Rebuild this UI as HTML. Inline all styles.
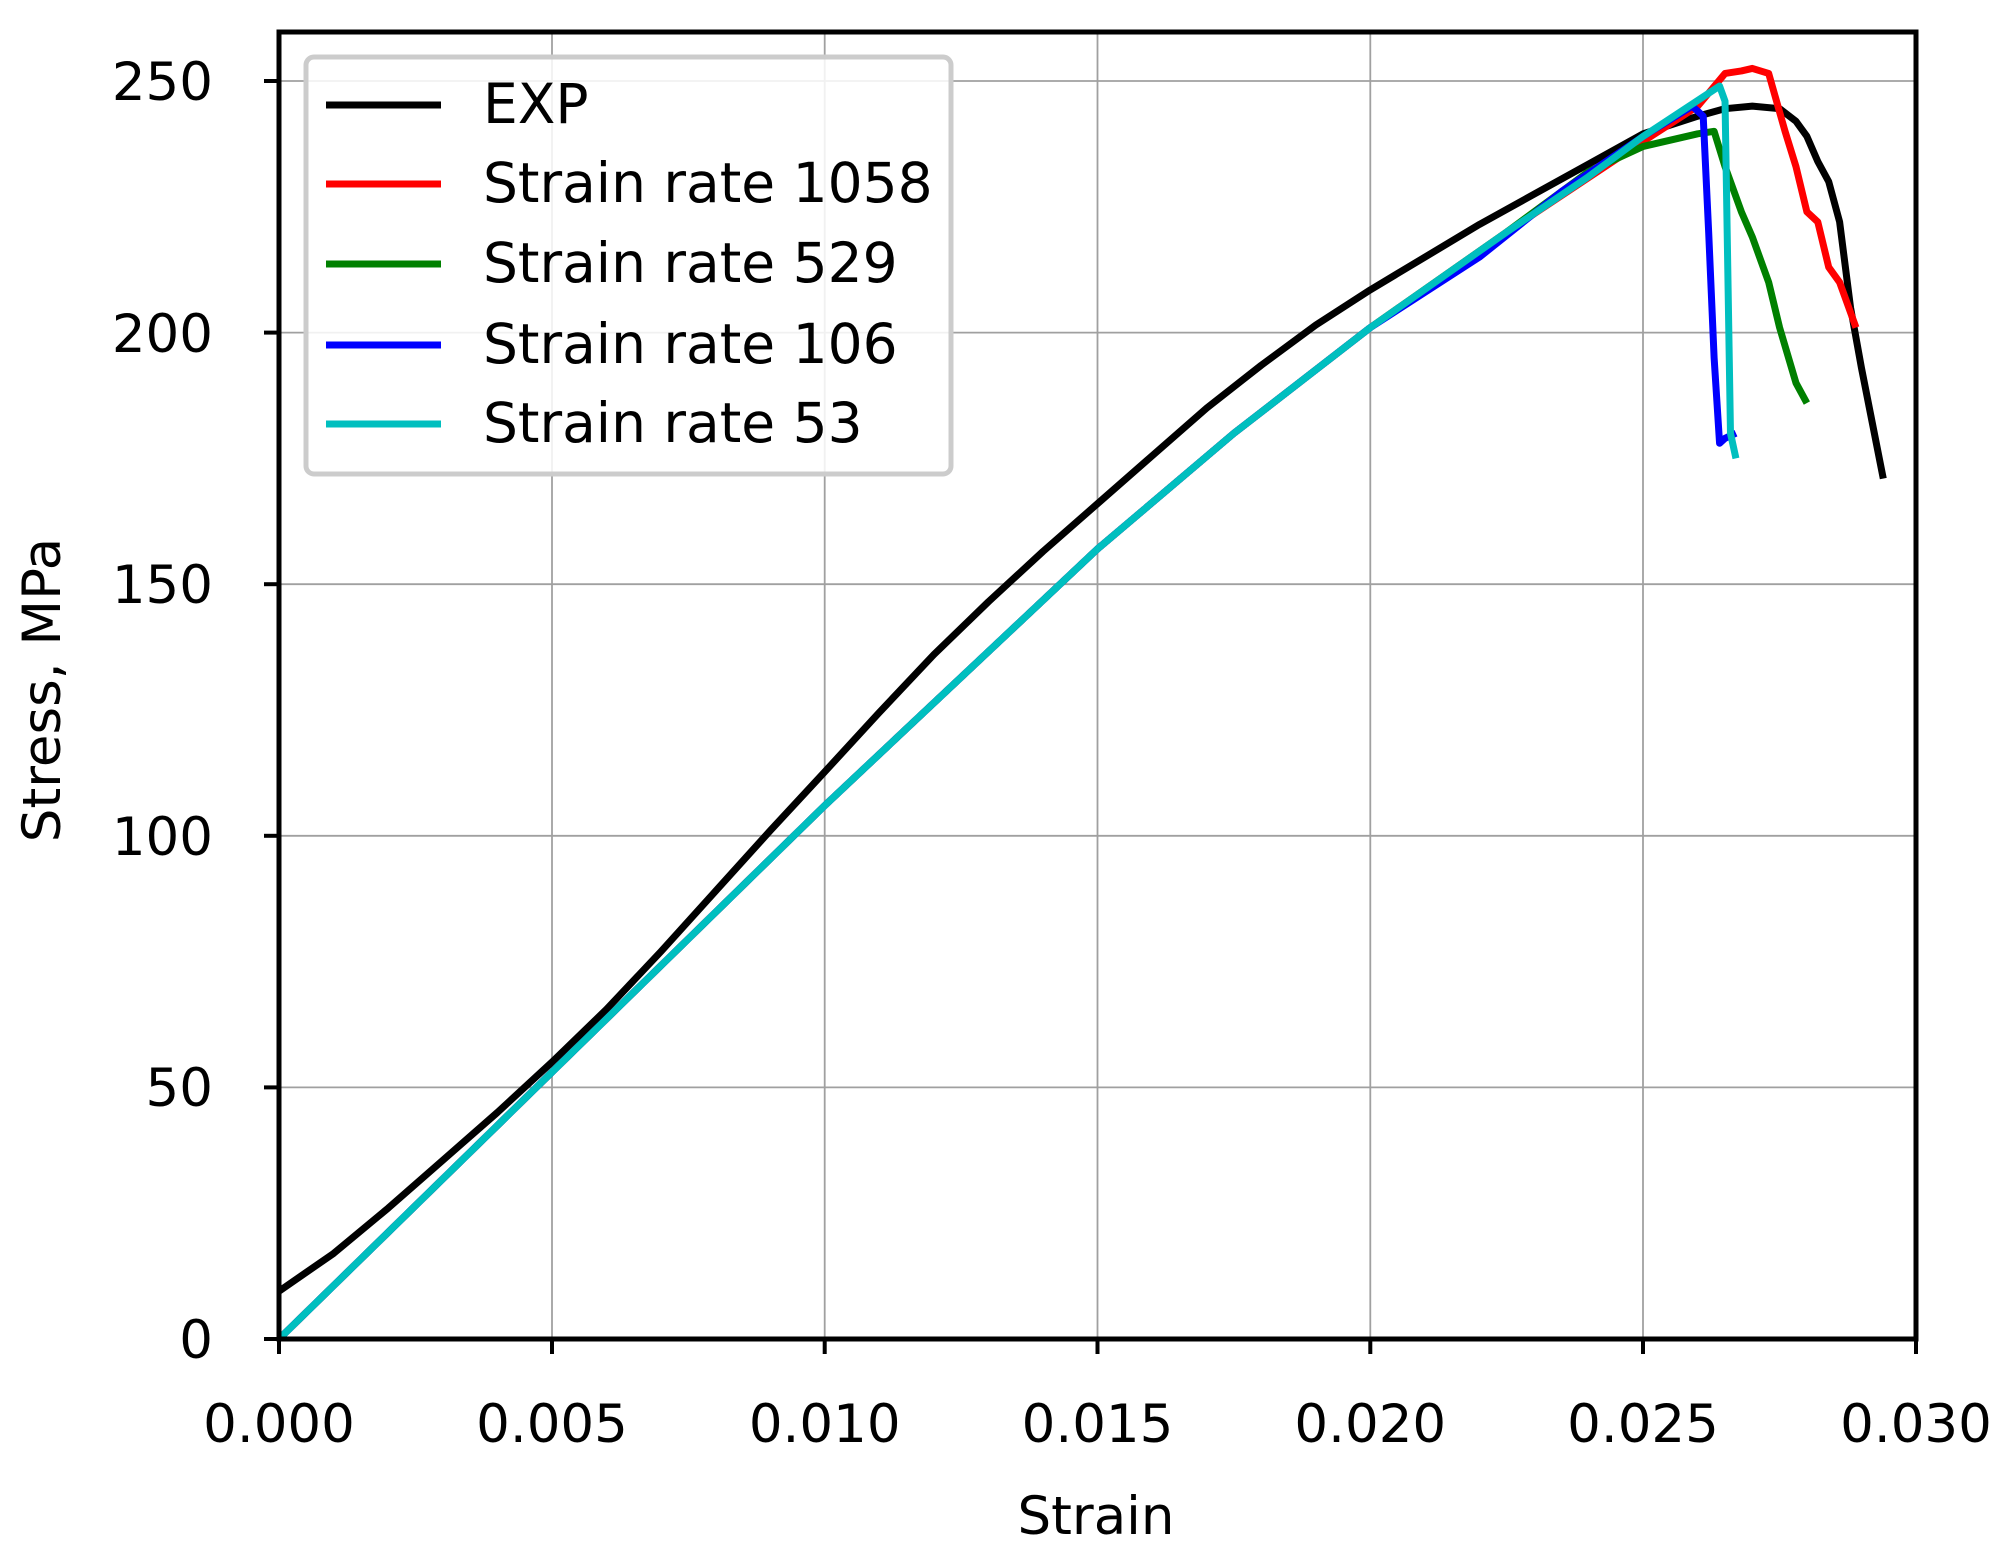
<!DOCTYPE html>
<html><head><meta charset="utf-8"><style>
html,body{margin:0;padding:0;background:#fff}
svg text{font-family:"DejaVu Sans","Liberation Sans",sans-serif;fill:#000}
</style></head><body>
<svg width="2003" height="1557" viewBox="0 0 2003 1557" xmlns="http://www.w3.org/2000/svg">
<rect width="2003" height="1557" fill="#fff"/>
<g stroke="#a0a0a0" stroke-width="1.8">
<line x1="552" y1="32" x2="552" y2="1339"/>
<line x1="824.7" y1="32" x2="824.7" y2="1339"/>
<line x1="1097.5" y1="32" x2="1097.5" y2="1339"/>
<line x1="1370.3" y1="32" x2="1370.3" y2="1339"/>
<line x1="1643" y1="32" x2="1643" y2="1339"/>
<line x1="279" y1="1087.4" x2="1916" y2="1087.4"/>
<line x1="279" y1="835.8" x2="1916" y2="835.8"/>
<line x1="279" y1="584.2" x2="1916" y2="584.2"/>
<line x1="279" y1="332.6" x2="1916" y2="332.6"/>
<line x1="279" y1="81" x2="1916" y2="81"/>
</g>
<g transform="translate(279,1339) scale(54567,-5.032)" fill="none" stroke-width="7" stroke-linejoin="round">
<polyline vector-effect="non-scaling-stroke" stroke="#000" points="0,9.5 0.001,17 0.002,26 0.003,35.5 0.004,45 0.005,55 0.006,65.5 0.007,77 0.008,89 0.009,101 0.010,112.7 0.011,124.5 0.012,136 0.013,146.5 0.014,156.5 0.015,166 0.016,175.5 0.017,185 0.018,193.5 0.019,201.5 0.020,208.5 0.021,215 0.022,221.5 0.023,227.5 0.024,233.5 0.025,239.5 0.026,243 0.0265,244.5 0.027,245 0.0275,244.5 0.0278,242 0.028,239 0.0282,234 0.0284,230 0.0286,222 0.0288,205 0.029,193 0.0292,182 0.0294,171"/>
<polyline vector-effect="non-scaling-stroke" stroke="#f00" points="0,0 0.005,53 0.010,106 0.015,157 0.0175,180 0.020,201 0.0225,220 0.025,238 0.026,245 0.0265,251.5 0.0268,252 0.027,252.5 0.0273,251.5 0.0276,240 0.0278,233 0.028,224 0.0282,222 0.0284,213 0.0286,210 0.0289,201"/>
<polyline vector-effect="non-scaling-stroke" stroke="#008000" points="0,0 0.005,53 0.010,106 0.015,157 0.0175,180 0.020,201 0.0225,220 0.024,232 0.025,237 0.026,239.5 0.0263,240 0.0265,233 0.0268,224 0.027,219 0.0273,210 0.0275,201 0.0278,190 0.028,186"/>
<polyline vector-effect="non-scaling-stroke" stroke="#00f" points="0,0 0.005,53 0.010,106 0.015,157 0.0175,180 0.020,201 0.022,215 0.0235,228 0.025,239 0.0259,245 0.0261,243 0.0262,220 0.0263,195 0.0264,178 0.0265,179 0.0267,180"/>
<polyline vector-effect="non-scaling-stroke" stroke="#00bfbf" points="0,0 0.005,53 0.010,106 0.015,157 0.0175,180 0.020,201 0.0225,220 0.024,231 0.025,239 0.0264,249 0.0265,246 0.0266,180 0.0267,175"/>
</g>
<rect x="279" y="32" width="1637" height="1307" fill="none" stroke="#000" stroke-width="5"/>
<g stroke="#000" stroke-width="4">
<line x1="279" y1="1339" x2="279" y2="1354"/><line x1="552" y1="1339" x2="552" y2="1354"/><line x1="824.7" y1="1339" x2="824.7" y2="1354"/><line x1="1097.5" y1="1339" x2="1097.5" y2="1354"/><line x1="1370.3" y1="1339" x2="1370.3" y2="1354"/><line x1="1643" y1="1339" x2="1643" y2="1354"/><line x1="1916" y1="1339" x2="1916" y2="1354"/>
<line x1="264" y1="1339" x2="279" y2="1339"/><line x1="264" y1="1087.4" x2="279" y2="1087.4"/><line x1="264" y1="835.8" x2="279" y2="835.8"/><line x1="264" y1="584.2" x2="279" y2="584.2"/><line x1="264" y1="332.6" x2="279" y2="332.6"/><line x1="264" y1="81" x2="279" y2="81"/>
</g>
<g font-size="53" text-anchor="middle">
<text x="279" y="1442">0.000</text><text x="552" y="1442">0.005</text><text x="824.7" y="1442">0.010</text><text x="1097.5" y="1442">0.015</text><text x="1370.3" y="1442">0.020</text><text x="1643" y="1442">0.025</text><text x="1916" y="1442">0.030</text>
</g>
<g font-size="53" text-anchor="end">
<text x="213" y="1358">0</text><text x="213" y="1106">50</text><text x="213" y="855">100</text><text x="213" y="603">150</text><text x="213" y="352">200</text><text x="213" y="100">250</text>
</g>
<text x="1096" y="1534" font-size="53" text-anchor="middle">Strain</text>
<text transform="translate(60,690) rotate(-90)" font-size="53" text-anchor="middle">Stress, MPa</text>
<rect x="306" y="57" width="645" height="417" rx="8" fill="#fff" fill-opacity="0.85" stroke="#ccc" stroke-width="5"/>
<g stroke-width="7">
<line x1="326" y1="105" x2="441" y2="105" stroke="#000"/>
<line x1="326" y1="184" x2="441" y2="184" stroke="#f00"/>
<line x1="326" y1="264" x2="441" y2="264" stroke="#008000"/>
<line x1="326" y1="345" x2="441" y2="345" stroke="#00f"/>
<line x1="326" y1="424" x2="441" y2="424" stroke="#00bfbf"/>
</g>
<g font-size="55">
<text x="483" y="123">EXP</text>
<text x="483" y="202">Strain rate 1058</text>
<text x="483" y="282">Strain rate 529</text>
<text x="483" y="363">Strain rate 106</text>
<text x="483" y="442">Strain rate 53</text>
</g>
</svg>
</body></html>
